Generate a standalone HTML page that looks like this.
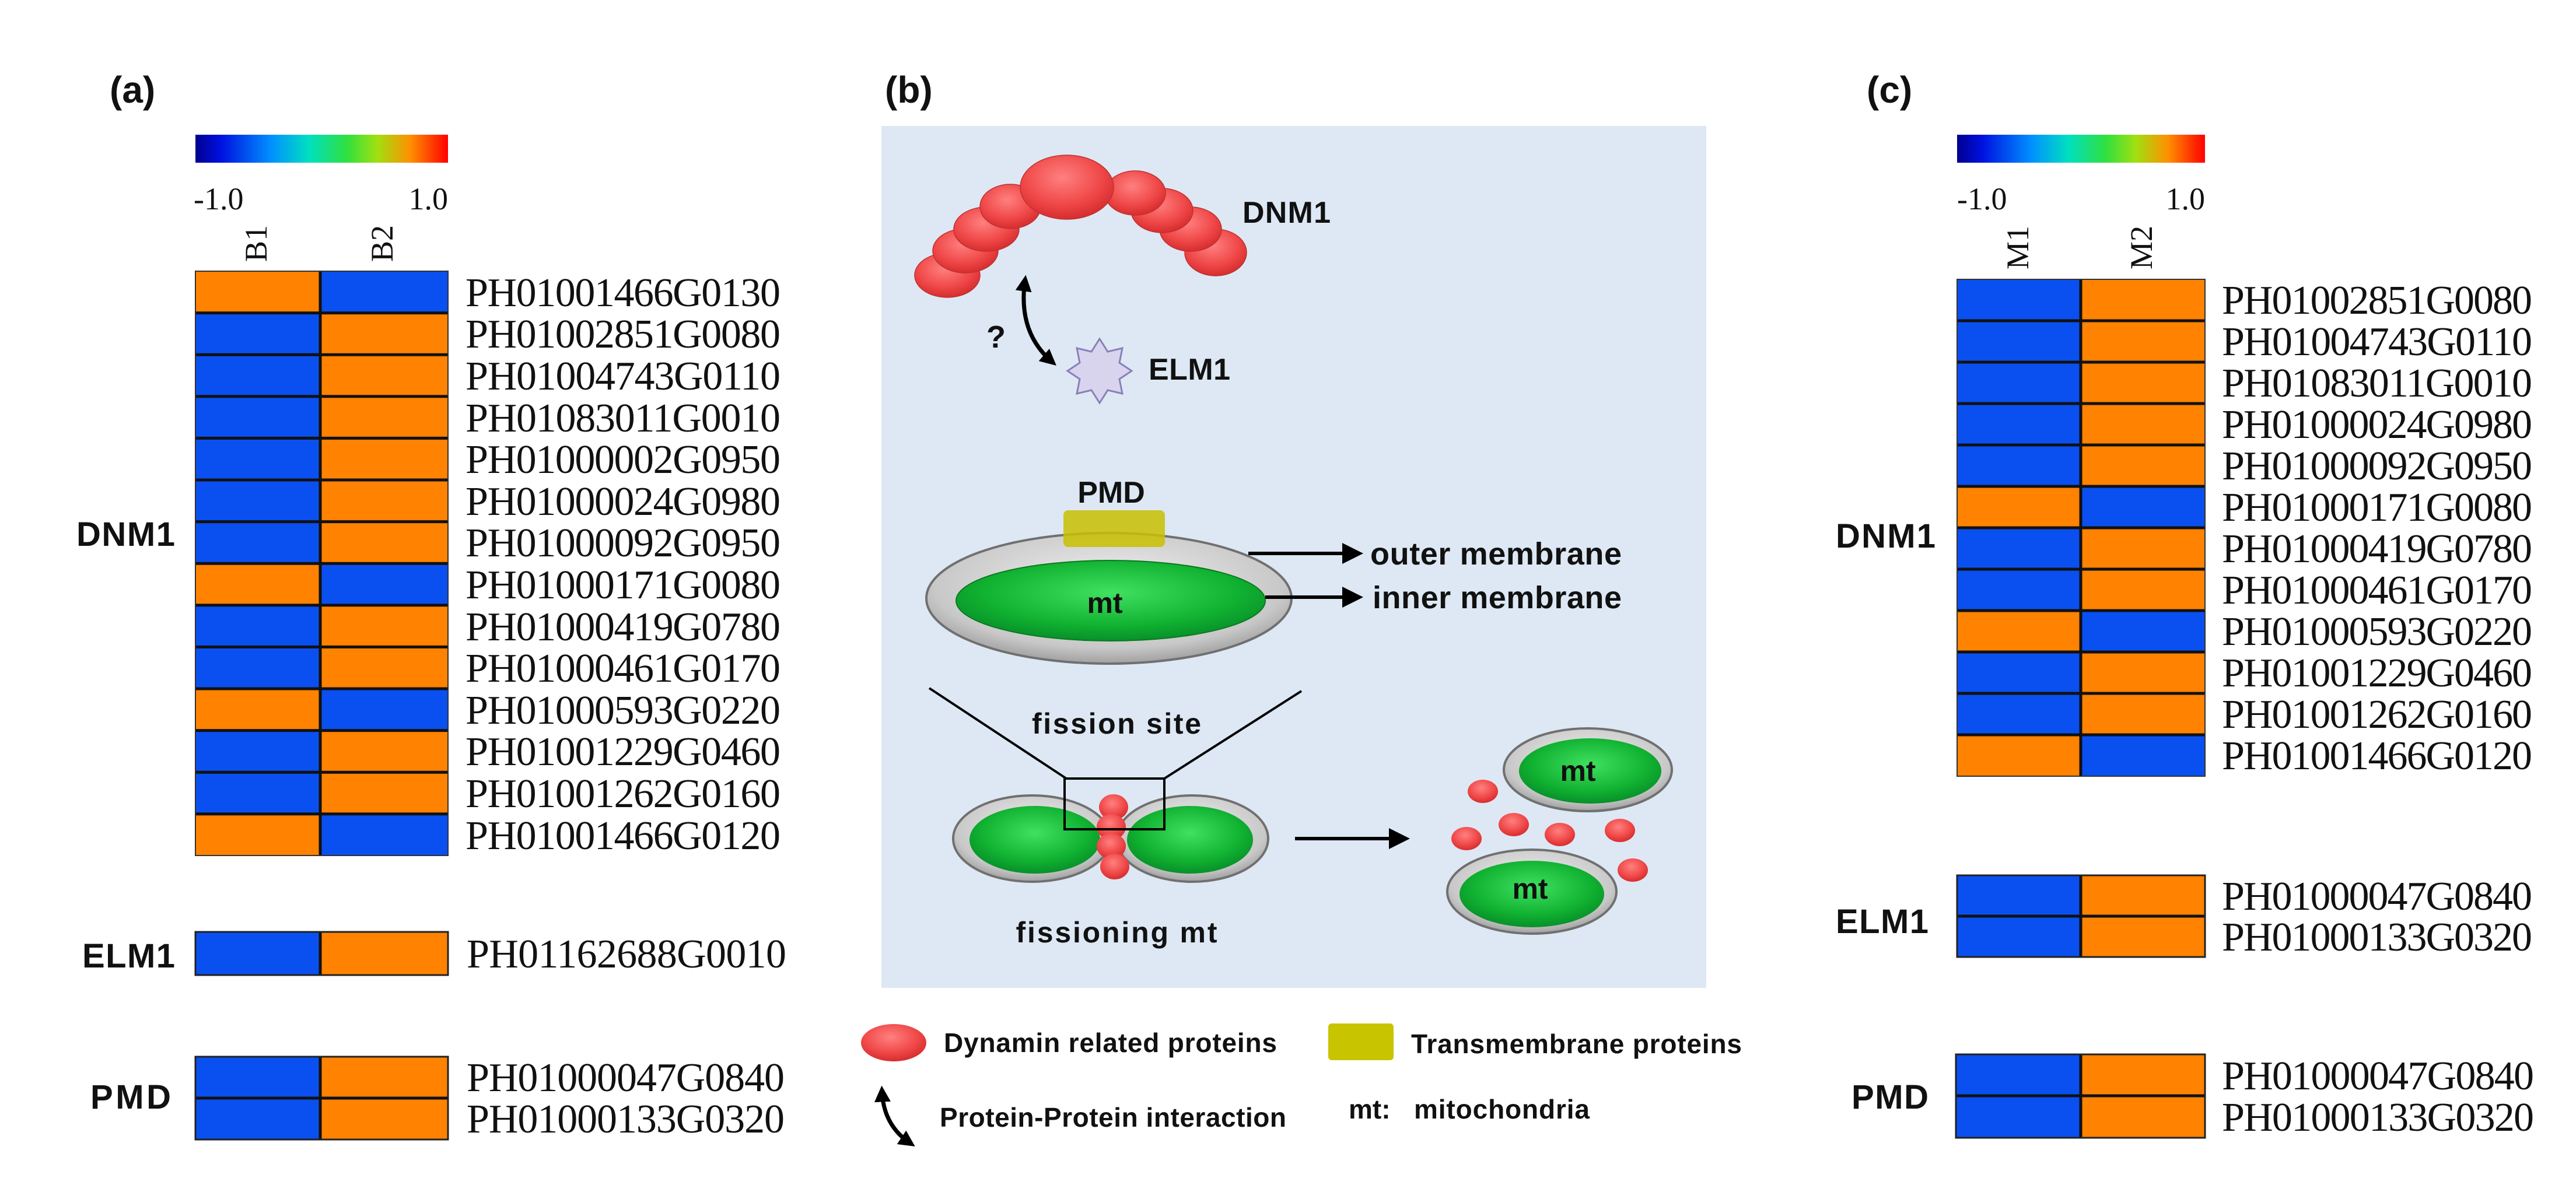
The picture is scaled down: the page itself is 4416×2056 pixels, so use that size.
<!DOCTYPE html>
<html><head><meta charset="utf-8"><style>
html,body{margin:0;padding:0;background:#fff;}
svg{display:block;}
.g{font-family:"Liberation Serif",serif;font-size:70px;fill:#111;}
.s{font-family:"Liberation Serif",serif;font-size:54px;fill:#111;}
.b{font-family:"Liberation Sans",sans-serif;font-weight:bold;fill:#111;}
</style></head><body>
<svg width="4416" height="2056" viewBox="0 0 4416 2056" xmlns="http://www.w3.org/2000/svg">
<defs>
<linearGradient id="cb" x1="0" x2="1" y1="0" y2="0">
<stop offset="0" stop-color="#00008f"/><stop offset="0.1" stop-color="#0010e0"/><stop offset="0.3" stop-color="#0090ff"/><stop offset="0.45" stop-color="#00e0c0"/><stop offset="0.6" stop-color="#30e040"/><stop offset="0.72" stop-color="#a0e010"/><stop offset="0.85" stop-color="#ff9000"/><stop offset="1" stop-color="#ff0000"/>
</linearGradient>
<radialGradient id="bead" cx="0.45" cy="0.35" r="0.7">
<stop offset="0" stop-color="#ff8080"/><stop offset="0.6" stop-color="#f04848"/><stop offset="1" stop-color="#d02828"/>
</radialGradient>
<radialGradient id="grn" cx="0.5" cy="0.4" r="0.6">
<stop offset="0" stop-color="#40e060"/><stop offset="0.7" stop-color="#10b030"/><stop offset="1" stop-color="#08902a"/>
</radialGradient>
<radialGradient id="gry" cx="0.5" cy="0.4" r="0.6">
<stop offset="0" stop-color="#f0f0f0"/><stop offset="0.8" stop-color="#c8c8c8"/><stop offset="1" stop-color="#a0a0a0"/>
</radialGradient>
<marker id="ah" markerWidth="6" markerHeight="6" refX="4" refY="3" orient="auto" markerUnits="strokeWidth"><path d="M0,0 L6,3 L0,6 z" fill="#000"/></marker>
<marker id="ah2" markerWidth="4" markerHeight="4" refX="2.5" refY="2" orient="auto-start-reverse" markerUnits="strokeWidth"><path d="M0,0 L4,2 L0,4 z" fill="#000"/></marker>
</defs>

<!-- Panel labels -->
<text class="b" x="188" y="176" font-size="64">(a)</text>
<text class="b" x="1517" y="176" font-size="64">(b)</text>
<text class="b" x="3200" y="176" font-size="64">(c)</text>

<!-- ===== Panel A ===== -->
<rect x="335" y="231" width="433" height="48" fill="url(#cb)"/>
<text class="s" x="332" y="359">-1.0</text>
<text class="s" x="768" y="359" text-anchor="end">1.0</text>
<text class="s" transform="translate(457,449) rotate(-90)">B1</text>
<text class="s" transform="translate(673,449) rotate(-90)">B2</text>

<rect x="335" y="465" width="214" height="1002" fill="#0a50f0"/>
<rect x="549" y="465" width="219" height="1002" fill="#ff8200"/>
<g fill="#ff8200">
<rect x="335" y="465" width="214" height="71.6"/><rect x="335" y="966.2" width="214" height="71.6"/><rect x="335" y="1181" width="214" height="71.6"/><rect x="335" y="1395.8" width="214" height="71.6"/>
</g>
<g fill="#0a50f0">
<rect x="549" y="465" width="219" height="71.6"/><rect x="549" y="966.2" width="219" height="71.6"/><rect x="549" y="1181" width="219" height="71.6"/><rect x="549" y="1395.8" width="219" height="71.6"/>
</g>
<g stroke="#111" stroke-width="5">
<line x1="335" x2="768" y1="536.6" y2="536.6"/><line x1="335" x2="768" y1="608.2" y2="608.2"/><line x1="335" x2="768" y1="679.8" y2="679.8"/><line x1="335" x2="768" y1="751.4" y2="751.4"/><line x1="335" x2="768" y1="823" y2="823"/><line x1="335" x2="768" y1="894.6" y2="894.6"/><line x1="335" x2="768" y1="966.2" y2="966.2"/><line x1="335" x2="768" y1="1037.8" y2="1037.8"/><line x1="335" x2="768" y1="1109.4" y2="1109.4"/><line x1="335" x2="768" y1="1181" y2="1181"/><line x1="335" x2="768" y1="1252.6" y2="1252.6"/><line x1="335" x2="768" y1="1324.2" y2="1324.2"/><line x1="335" x2="768" y1="1395.8" y2="1395.8"/>
<line x1="549" x2="549" y1="465" y2="1467"/>
</g>
<rect x="335" y="465" width="433" height="1002" fill="none" stroke="#333" stroke-width="2"/>
<g class="g">
<text x="798" y="525" textLength="540">PH01001466G0130</text>
<text x="798" y="596" textLength="540">PH01002851G0080</text>
<text x="798" y="668" textLength="540">PH01004743G0110</text>
<text x="798" y="740" textLength="540">PH01083011G0010</text>
<text x="798" y="811" textLength="540">PH01000002G0950</text>
<text x="798" y="883" textLength="540">PH01000024G0980</text>
<text x="798" y="954" textLength="540">PH01000092G0950</text>
<text x="798" y="1026" textLength="540">PH01000171G0080</text>
<text x="798" y="1098" textLength="540">PH01000419G0780</text>
<text x="798" y="1169" textLength="540">PH01000461G0170</text>
<text x="798" y="1241" textLength="540">PH01000593G0220</text>
<text x="798" y="1312" textLength="540">PH01001229G0460</text>
<text x="798" y="1384" textLength="540">PH01001262G0160</text>
<text x="798" y="1456" textLength="540">PH01001466G0120</text>
</g>
<text class="b" x="131" y="936" font-size="58" textLength="169">DNM1</text>

<rect x="335" y="1598" width="214" height="74" fill="#0a50f0"/>
<rect x="549" y="1598" width="219" height="74" fill="#ff8200"/>
<line x1="549" x2="549" y1="1598" y2="1672" stroke="#111" stroke-width="5"/>
<rect x="335" y="1598" width="433" height="74" fill="none" stroke="#222" stroke-width="3"/>
<text class="g" x="800" y="1659" textLength="548">PH01162688G0010</text>
<text class="b" x="141" y="1659" font-size="58" textLength="159">ELM1</text>

<rect x="335" y="1812" width="214" height="142" fill="#0a50f0"/>
<rect x="549" y="1812" width="219" height="142" fill="#ff8200"/>
<line x1="335" x2="768" y1="1883" y2="1883" stroke="#111" stroke-width="5"/>
<line x1="549" x2="549" y1="1812" y2="1954" stroke="#111" stroke-width="5"/>
<rect x="335" y="1812" width="433" height="142" fill="none" stroke="#222" stroke-width="3"/>
<text class="g" x="800" y="1871" textLength="545">PH01000047G0840</text>
<text class="g" x="800" y="1942" textLength="545">PH01000133G0320</text>
<text class="b" x="155" y="1901" font-size="58" textLength="138">PMD</text>

<!-- ===== Panel C ===== -->
<rect x="3355" y="231" width="425" height="48" fill="url(#cb)"/>
<text class="s" x="3355" y="359">-1.0</text>
<text class="s" x="3780" y="359" text-anchor="end">1.0</text>
<text class="s" transform="translate(3477,462) rotate(-90)">M1</text>
<text class="s" transform="translate(3689,462) rotate(-90)">M2</text>

<rect x="3355" y="479" width="212" height="852" fill="#0a50f0"/>
<rect x="3567" y="479" width="213" height="852" fill="#ff8200"/>
<g fill="#ff8200"><rect x="3355" y="834" width="212" height="71"/><rect x="3355" y="1047" width="212" height="71"/><rect x="3355" y="1260" width="212" height="71"/></g>
<g fill="#0a50f0"><rect x="3567" y="834" width="213" height="71"/><rect x="3567" y="1047" width="213" height="71"/><rect x="3567" y="1260" width="213" height="71"/></g>
<g stroke="#111" stroke-width="5">
<line x1="3355" x2="3780" y1="550" y2="550"/><line x1="3355" x2="3780" y1="621" y2="621"/><line x1="3355" x2="3780" y1="692" y2="692"/><line x1="3355" x2="3780" y1="763" y2="763"/><line x1="3355" x2="3780" y1="834" y2="834"/><line x1="3355" x2="3780" y1="905" y2="905"/><line x1="3355" x2="3780" y1="976" y2="976"/><line x1="3355" x2="3780" y1="1047" y2="1047"/><line x1="3355" x2="3780" y1="1118" y2="1118"/><line x1="3355" x2="3780" y1="1189" y2="1189"/><line x1="3355" x2="3780" y1="1260" y2="1260"/>
<line x1="3567" x2="3567" y1="479" y2="1331"/>
</g>
<rect x="3355" y="479" width="425" height="852" fill="none" stroke="#333" stroke-width="2"/>
<g class="g">
<text x="3809" y="538" textLength="532">PH01002851G0080</text>
<text x="3809" y="609" textLength="532">PH01004743G0110</text>
<text x="3809" y="680" textLength="532">PH01083011G0010</text>
<text x="3809" y="751" textLength="532">PH01000024G0980</text>
<text x="3809" y="822" textLength="532">PH01000092G0950</text>
<text x="3809" y="893" textLength="532">PH01000171G0080</text>
<text x="3809" y="964" textLength="532">PH01000419G0780</text>
<text x="3809" y="1035" textLength="532">PH01000461G0170</text>
<text x="3809" y="1106" textLength="532">PH01000593G0220</text>
<text x="3809" y="1177" textLength="532">PH01001229G0460</text>
<text x="3809" y="1248" textLength="532">PH01001262G0160</text>
<text x="3809" y="1319" textLength="532">PH01001466G0120</text>
</g>
<text class="b" x="3147" y="939" font-size="58" textLength="171">DNM1</text>

<rect x="3355" y="1501" width="212" height="140" fill="#0a50f0"/>
<rect x="3567" y="1501" width="213" height="140" fill="#ff8200"/>
<line x1="3355" x2="3780" y1="1571" y2="1571" stroke="#111" stroke-width="5"/>
<line x1="3567" x2="3567" y1="1501" y2="1641" stroke="#111" stroke-width="5"/>
<rect x="3355" y="1501" width="425" height="140" fill="none" stroke="#222" stroke-width="3"/>
<text class="g" x="3809" y="1560" textLength="532">PH01000047G0840</text>
<text class="g" x="3809" y="1630" textLength="532">PH01000133G0320</text>
<text class="b" x="3147" y="1600" font-size="58" textLength="159">ELM1</text>

<rect x="3353" y="1808" width="214" height="143" fill="#0a50f0"/>
<rect x="3567" y="1808" width="213" height="143" fill="#ff8200"/>
<line x1="3353" x2="3780" y1="1879" y2="1879" stroke="#111" stroke-width="5"/>
<line x1="3567" x2="3567" y1="1808" y2="1951" stroke="#111" stroke-width="5"/>
<rect x="3353" y="1808" width="427" height="143" fill="none" stroke="#222" stroke-width="3"/>
<text class="g" x="3809" y="1868" textLength="535">PH01000047G0840</text>
<text class="g" x="3809" y="1939" textLength="535">PH01000133G0320</text>
<text class="b" x="3174" y="1901" font-size="58" textLength="132">PMD</text>

<!-- ===== Panel B ===== -->
<rect x="1511" y="216" width="1414" height="1478" fill="#dde8f4"/>

<!-- DNM1 chain -->
<g fill="url(#bead)" stroke="#c03030" stroke-width="1.5">
<ellipse cx="1624" cy="472" rx="56" ry="38"/>
<ellipse cx="1655" cy="430" rx="56" ry="38"/>
<ellipse cx="1691" cy="393" rx="56" ry="38"/>
<ellipse cx="1732" cy="354" rx="52" ry="38"/>
<ellipse cx="2084" cy="433" rx="53" ry="40"/>
<ellipse cx="2041" cy="393" rx="53" ry="38"/>
<ellipse cx="1992" cy="361" rx="53" ry="38"/>
<ellipse cx="1946" cy="331" rx="52" ry="38"/>
<ellipse cx="1829" cy="321" rx="80" ry="55"/>
</g>
<text class="b" x="2130" y="382" font-size="52" textLength="151">DNM1</text>
<path d="M1757,482 Q1745,570 1803,620" fill="none" stroke="#000" stroke-width="7" marker-start="url(#ah2)" marker-end="url(#ah2)"/>
<text class="b" x="1691" y="596" font-size="54">?</text>
<polygon points="1885,581 1899,603 1924,597 1919,622 1940,636 1919,650 1924,675 1899,669 1885,691 1871,669 1846,675 1851,650 1830,636 1851,622 1846,597 1871,603" fill="#d8d4ee" stroke="#8a80b8" stroke-width="3"/>
<text class="b" x="1969" y="651" font-size="52" textLength="140">ELM1</text>

<!-- top mitochondrion -->
<text class="b" x="1905" y="862" font-size="52" text-anchor="middle">PMD</text>
<ellipse cx="1901" cy="1026" rx="313" ry="112" fill="url(#gry)" stroke="#707070" stroke-width="4"/>
<ellipse cx="1904" cy="1030" rx="265" ry="69" fill="url(#grn)" stroke="#0a7a20" stroke-width="2"/>
<rect x="1823" y="875" width="174" height="63" rx="8" fill="#c8c000" opacity="0.85"/>
<text class="b" x="1894" y="1051" font-size="50" text-anchor="middle">mt</text>
<line x1="2140" y1="949" x2="2325" y2="949" stroke="#000" stroke-width="6" marker-end="url(#ah)"/>
<text class="b" x="2349" y="968" font-size="54" textLength="431">outer membrane</text>
<line x1="2169" y1="1024" x2="2325" y2="1024" stroke="#000" stroke-width="6" marker-end="url(#ah)"/>
<text class="b" x="2353" y="1043" font-size="54" textLength="427">inner membrane</text>

<!-- fission -->
<line x1="1593" y1="1180" x2="1828" y2="1335" stroke="#000" stroke-width="4"/>
<line x1="2231" y1="1185" x2="1996" y2="1335" stroke="#000" stroke-width="4"/>
<text class="b" x="1914" y="1258" font-size="50" text-anchor="middle" textLength="290">fission site</text>
<ellipse cx="1769" cy="1438" rx="135" ry="74" fill="url(#gry)" stroke="#707070" stroke-width="4"/>
<ellipse cx="2044" cy="1438" rx="130" ry="74" fill="url(#gry)" stroke="#707070" stroke-width="4"/>
<ellipse cx="1774" cy="1440" rx="112" ry="58" fill="url(#grn)"/>
<ellipse cx="2040" cy="1440" rx="108" ry="58" fill="url(#grn)"/>
<g fill="url(#bead)">
<ellipse cx="1909" cy="1384" rx="25" ry="22"/>
<ellipse cx="1905" cy="1418" rx="25" ry="22"/>
<ellipse cx="1905" cy="1451" rx="25" ry="22"/>
<ellipse cx="1911" cy="1486" rx="25" ry="22"/>
</g>
<rect x="1825" y="1335" width="171" height="87" fill="none" stroke="#000" stroke-width="4"/>
<text class="b" x="1914" y="1616" font-size="50" text-anchor="middle" textLength="345">fissioning mt</text>
<line x1="2220" y1="1438" x2="2405" y2="1438" stroke="#000" stroke-width="6" marker-end="url(#ah)"/>

<ellipse cx="2722" cy="1320" rx="144" ry="71" fill="url(#gry)" stroke="#707070" stroke-width="4"/>
<ellipse cx="2726" cy="1322" rx="122" ry="56" fill="url(#grn)"/>
<text class="b" x="2705" y="1339" font-size="50" text-anchor="middle">mt</text>
<ellipse cx="2626" cy="1529" rx="145" ry="72" fill="url(#gry)" stroke="#707070" stroke-width="4"/>
<ellipse cx="2626" cy="1533" rx="124" ry="57" fill="url(#grn)"/>
<text class="b" x="2623" y="1541" font-size="50" text-anchor="middle">mt</text>
<g fill="url(#bead)">
<ellipse cx="2542" cy="1357" rx="26" ry="20"/>
<ellipse cx="2514" cy="1438" rx="26" ry="20"/>
<ellipse cx="2595" cy="1414" rx="26" ry="20"/>
<ellipse cx="2674" cy="1431" rx="26" ry="20"/>
<ellipse cx="2777" cy="1424" rx="26" ry="20"/>
<ellipse cx="2799" cy="1492" rx="26" ry="20"/>
</g>

<!-- legend -->
<ellipse cx="1532" cy="1788" rx="56" ry="32" fill="url(#bead)"/>
<text class="b" x="1618" y="1804" font-size="46" textLength="571">Dynamin related proteins</text>
<rect x="2277" y="1755" width="112" height="63" rx="6" fill="#c8c400"/>
<text class="b" x="2419" y="1806" font-size="46" textLength="567">Transmembrane proteins</text>
<path d="M1512,1872 Q1515,1930 1560,1960" fill="none" stroke="#000" stroke-width="7" marker-start="url(#ah2)" marker-end="url(#ah2)"/>
<text class="b" x="1611" y="1932" font-size="46" textLength="594">Protein-Protein interaction</text>
<text class="b" x="2312" y="1918" font-size="46">mt:</text>
<text class="b" x="2424" y="1918" font-size="46" textLength="301">mitochondria</text>
</svg>
</body></html>
